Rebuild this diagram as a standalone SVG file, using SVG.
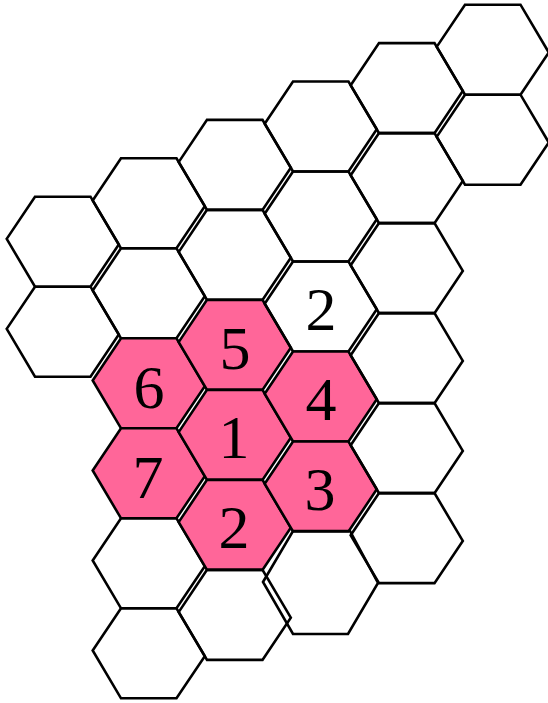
<svg xmlns="http://www.w3.org/2000/svg" xmlns:xlink="http://www.w3.org/1999/xlink" width="548" height="703" viewBox="0 0 548 703">
<style>
.h{fill:none;stroke:#000;stroke-width:2.6;stroke-linejoin:miter}
.p{fill:#ff6699;stroke:#000;stroke-width:2.6;stroke-linejoin:miter}
.t{font-family:"Liberation Serif","Times New Roman",serif;font-size:62px;text-anchor:middle;fill:#000}
</style>
<defs>
<polygon id="hex" points="-28.3,42.2 0,0 55.5,0 83.8,47.8 55.5,90 0,90"/>
</defs>
<rect width="548" height="703" fill="#fff"/>
<g id="col0">
<g id="h0a"><use href="#hex" class="h" x="35" y="196.7"/></g>
<g id="h0b"><use href="#hex" class="h" x="35" y="286.7"/></g>
</g>
<g id="col1">
<g id="h1a"><use href="#hex" class="h" x="121" y="158.3"/></g>
<g id="h1b"><use href="#hex" class="h" x="121" y="248.3"/></g>
<g id="h1c"><use href="#hex" class="p" x="121" y="338.3"/><text class="t" x="149" y="408">6</text></g>
<g id="h1d"><use href="#hex" class="p" x="121" y="428.3"/><text class="t" x="148" y="498">7</text></g>
<g id="h1e"><use href="#hex" class="h" x="121" y="518.3"/></g>
<g id="h1f"><use href="#hex" class="h" x="121" y="608.3"/></g>
</g>
<g id="col2">
<g id="h2a"><use href="#hex" class="h" x="207" y="119.9"/></g>
<g id="h2b"><use href="#hex" class="h" x="207" y="209.9"/></g>
<g id="h2c"><use href="#hex" class="p" x="207" y="299.9"/><text class="t" x="235" y="369">5</text></g>
<g id="h2d"><use href="#hex" class="p" x="207" y="389.9"/><text class="t" x="234" y="458">1</text></g>
<g id="h2e"><use href="#hex" class="p" x="207" y="479.9"/><text class="t" x="234" y="548">2</text></g>
<g id="h2f"><use href="#hex" class="h" x="207" y="569.9"/></g>
</g>
<g id="col3">
<g id="h3a"><use href="#hex" class="h" x="293" y="81.5"/></g>
<g id="h3b"><use href="#hex" class="h" x="293" y="171.5"/></g>
<g id="h3c"><use href="#hex" class="h" x="293" y="261.5"/><text class="t" x="321" y="330">2</text></g>
<g id="h3d"><use href="#hex" class="p" x="293" y="351.5"/><text class="t" x="321" y="420">4</text></g>
<g id="h3e"><use href="#hex" class="p" x="293" y="441.5"/><text class="t" x="320" y="510">3</text></g>
<g id="h3f"><polygon class="h" points="263,582 293,531 350,531 378,583 348,634 293,634"/></g>
</g>
<g id="col4">
<g id="h4a"><use href="#hex" class="h" x="379" y="43.1"/></g>
<g id="h4b"><use href="#hex" class="h" x="379" y="133.1"/></g>
<g id="h4c"><use href="#hex" class="h" x="379" y="223.1"/></g>
<g id="h4d"><use href="#hex" class="h" x="379" y="313.1"/></g>
<g id="h4e"><use href="#hex" class="h" x="379" y="403.1"/></g>
<g id="h4f"><use href="#hex" class="h" x="379" y="493.1"/></g>
</g>
<g id="col5">
<g id="h5a"><use href="#hex" class="h" x="465" y="4.7"/></g>
<g id="h5b"><use href="#hex" class="h" x="465" y="94.7"/></g>
</g>
<g id="connectors"/>
</svg>
